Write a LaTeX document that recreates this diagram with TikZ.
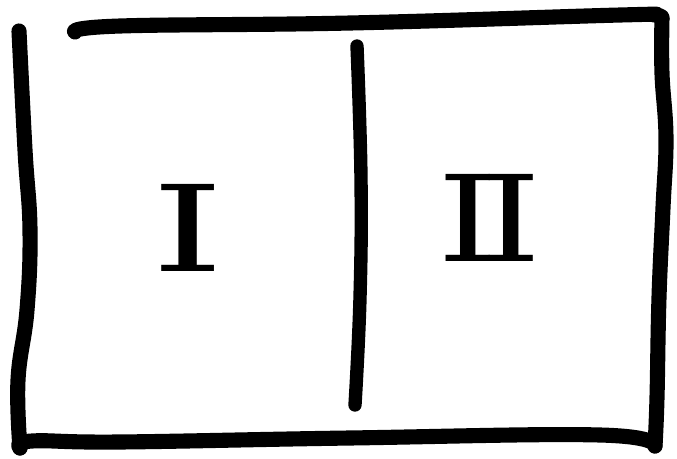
\documentclass[tikz,border=0pt]{standalone}
\usepackage{graphicx}
\usepackage{fontspec}
\newfontfamily\numeralfont{DejaVu Serif}
\usepackage{tikz}
\definecolor{plink}  {HTML}{000000}
\definecolor{plpaper}{HTML}{FFFFFF}

\begin{document}
\begin{tikzpicture}[every node/.style={font=\numeralfont\fontsize{34}{34}\selectfont},
    stroke/.style={draw=plink, line width=4.3pt, line cap=round, line join=round}]
  \useasboundingbox[fill=plpaper] (0,0) rectangle (6.77,4.58);
  % outer frame
  \draw[stroke] plot[smooth, tension=0.7] coordinates
    {(0.19,4.27) (0.25,3.08) (0.30,2.28) (0.27,1.48) (0.18,0.78) (0.20,0.10)};
  \draw[stroke] plot[smooth, tension=0.7] coordinates
    {(0.20,0.10) (0.32,0.17) (1.20,0.16) (3.50,0.20) (6.00,0.23) (6.55,0.12)};
  \draw[stroke] plot[smooth, tension=0.7] coordinates
    {(6.55,0.12) (6.57,0.60) (6.59,1.60) (6.63,2.50) (6.66,3.20) (6.62,3.85) (6.62,4.40)};
  \draw[stroke] plot[smooth, tension=0.7] coordinates
    {(6.62,4.40) (6.55,4.43) (6.20,4.43) (3.50,4.35) (1.20,4.32) (0.75,4.26)};
  % divider
  \draw[stroke, line width=3.8pt] plot[smooth, tension=0.7] coordinates
    {(3.57,4.12) (3.61,2.80) (3.60,1.60) (3.55,0.53)};
  \node[plink] (one) at (1.88,2.30) {\scalebox{1.55}[1]{I}};
  \node[plink] (two) at (4.90,2.40) {\scalebox{1.3}[1]{I\kern-0.12em I}};
\end{tikzpicture}
\end{document}
